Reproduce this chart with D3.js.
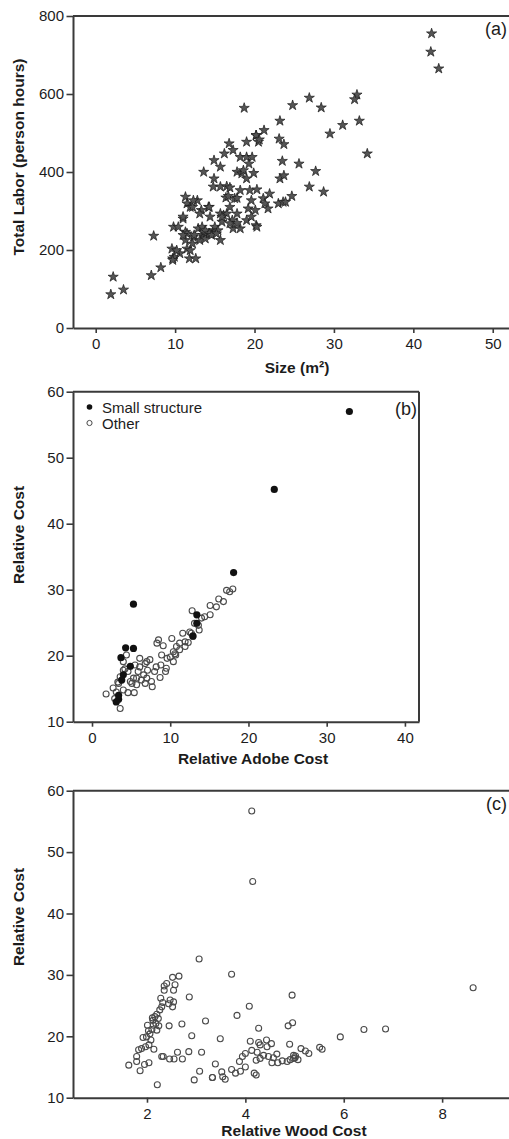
<!DOCTYPE html>
<html>
<head>
<meta charset="utf-8">
<script src="https://cdn.jsdelivr.net/npm/d3@7.9.0/dist/d3.min.js"></script>
<style>
  html, body { margin: 0; padding: 0; background: #fff; }
  svg { display: block; font-family: "Liberation Sans", Arial, sans-serif; }
  .axis path, .axis line { stroke: #3a3a3a; }
  .axis path { stroke-width: 2; }
  .axis line { stroke-width: 1.6; }
  .axis text { font-size: 15px; fill: #1c1c1c; }
  .lab { font-size: 15.5px; font-weight: bold; fill: #1c1c1c; }
</style>
</head>
<body>
<svg id="chart" width="509" height="1139"></svg>
<script>
// (a) size vs total labor
const sizeA = [42.3, 42.2, 43.2, 32.9, 32.6, 26.9, 28.4, 24.8, 18.7, 23.2, 33.2, 31.1, 29.5, 34.2, 21.2, 20.2, 20.5,
  2.2, 1.9, 3.5, 7.0, 8.2, 7.3, 9.7, 9.9, 9.6, 9.8, 10.4, 11.0, 11.0, 11.3, 11.5, 11.9, 12.2, 12.8, 13.3, 14.2,
  11.3, 11.3, 10.6, 11.5, 11.9, 11.8, 12.6, 12.3, 12.9, 13.1, 13.5, 13.9, 13.8, 14.8, 15.0, 15.4, 15.7, 15.9,
  16.1, 16.5, 16.9, 17.2, 17.3, 17.8, 18.2, 17.5, 17.8, 18.2, 19.4, 20.3, 19.2, 19.6, 20.1, 19.0, 19.6, 20.2,
  20.3, 21.1, 21.3, 21.7, 21.9, 23.0, 23.6, 23.9, 24.7, 23.2, 23.7, 23.5, 23.7, 23.1, 25.6, 26.9, 27.7, 28.7,
  14.8, 15.7, 16.5, 16.9, 16.4, 16.7, 14.9, 13.6, 13.6, 14.9, 15.7, 16.2, 16.8, 17.3, 18.2, 19.0, 19.7, 19.0,
  19.3, 17.8, 18.4, 19.0, 19.9, 18.6, 20.2, 20.6, 14.3, 14.4, 15.7, 15.9, 16.9, 17.8, 12.3, 13.4, 13.8, 14.3,
  14.6, 15.2, 12.2, 12.4, 11.5, 11.0, 10.2, 9.7, 13.1];
const laborA = [755, 708, 665, 598, 586, 590, 565, 571, 564, 531, 531, 520, 498, 447, 507, 494, 477,
  131, 86, 98, 135, 155, 236, 178, 182, 203, 259, 259, 280, 285, 336, 319, 310, 310, 327, 302, 310,
  246, 225, 191, 203, 199, 178, 178, 233, 255, 225, 238, 242, 229, 250, 259, 250, 225, 272,
  289, 293, 310, 276, 255, 293, 255, 332, 333, 353, 353, 355, 306, 327, 302, 276, 285, 263,
  259, 332, 319, 306, 344, 319, 323, 323, 338, 383, 391, 428, 471, 485, 421, 362, 402, 349,
  362, 362, 363, 360, 334, 338, 383, 400, 246, 430, 413, 447, 473, 456, 438, 438, 438, 477,
  421, 400, 396, 383, 397, 404, 494, 483, 310, 285, 293, 285, 268, 269, 327, 259, 250, 242,
  238, 242, 216, 238, 242, 238, 199, 174, 293];

// (b) relative adobe cost vs relative cost
const adobeSmall = [32.9, 23.3, 18.1, 5.3, 4.3, 5.3, 3.7, 4.9, 4.0, 3.8, 3.4, 3.1, 13.4, 13.4, 12.9, 3.4];
const costSmall = [57.0, 45.2, 32.6, 27.8, 21.2, 21.1, 19.7, 18.4, 17.1, 16.3, 13.4, 13.0, 26.2, 24.9, 23.0, 14.0];
const adobeOther = [1.8, 2.7, 3.1, 3.6, 3.4, 4.0, 4.6, 5.4, 4.4, 4.0, 4.6, 5.1, 5.7, 5.3, 5.5, 6.1, 6.1, 6.8, 7.0,
  7.4, 6.6, 7.0, 6.8, 7.6, 7.7, 8.3, 8.5, 9.1, 8.9, 8.2, 8.8, 8.7, 9.5, 9.4, 8.0, 10.0, 10.2, 10.4, 10.7, 10.8,
  11.2, 11.6, 11.9, 12.3, 12.5, 12.8, 12.9, 13.7, 14.0, 14.4, 15.1, 15.1, 15.9, 16.2, 16.8, 17.2, 17.6, 18.0,
  4.0, 3.6, 2.9, 4.9, 5.9, 7.1, 6.3, 11.2, 11.9, 10.4, 13.1, 13.6, 12.7, 5.7, 3.3, 4.2, 9.6, 10.6];
const costOther = [14.2, 15.1, 14.5, 12.0, 15.8, 14.8, 14.4, 14.4, 20.1, 17.8, 17.6, 15.8, 15.6, 16.6, 18.6, 19.6, 18.3, 18.8, 19.1,
  19.4, 17.1, 16.6, 15.8, 16.1, 15.3, 21.9, 22.4, 21.5, 20.1, 18.3, 18.6, 16.7, 18.1, 17.6, 17.6, 19.8, 22.6, 20.6, 20.1, 21.4,
  21.9, 23.4, 22.1, 22.0, 23.6, 26.8, 22.9, 23.9, 25.7, 25.9, 26.2, 27.6, 27.4, 28.6, 28.2, 29.9, 29.7, 30.1,
  19.1, 16.8, 13.5, 16.1, 17.6, 17.8, 16.3, 20.9, 21.4, 19.1, 24.9, 24.6, 23.4, 16.6, 16.0, 18.0, 19.6, 20.3];

// (c) relative wood cost vs relative cost
const woodC = [4.13, 4.15, 3.06, 3.72, 8.63, 4.95, 2.86, 4.08, 3.83, 3.19, 2.71, 2.45, 4.96, 4.87, 4.27, 6.41, 6.85,
  5.93, 2.91, 3.49, 4.10, 4.27, 4.43, 4.30, 4.53, 4.44, 4.90, 4.13, 4.24, 4.37, 4.47, 4.30, 4.22, 4.57, 4.64,
  4.54, 4.66, 4.85, 4.91, 4.98, 5.01, 5.07, 5.13, 5.22, 5.29, 5.51, 5.56, 3.11, 2.85, 2.62, 2.72, 2.55, 2.46,
  2.33, 2.30, 3.39, 3.07, 2.96, 3.33, 3.52, 3.54, 3.59, 3.72, 3.80, 3.90, 4.00, 4.18, 4.22, 3.88, 3.94, 2.21,
  1.63, 1.79, 1.79, 1.86, 1.95, 2.04, 1.83, 1.89, 1.97, 2.04, 2.14, 1.92, 1.99, 2.06, 2.03, 2.10, 2.01, 2.13,
  2.12, 2.16, 2.20, 2.23, 2.24, 2.20, 2.26, 2.30, 2.32, 2.28, 2.44, 2.47, 2.54, 2.52, 2.35, 2.35, 2.40, 2.54,
  2.57, 2.52, 2.65, 4.00, 3.33, 4.98, 5.02, 4.75, 2.08, 2.18, 2.11];
const costC = [56.7, 45.2, 32.6, 30.1, 27.9, 26.7, 26.4, 24.9, 23.4, 22.5, 22.0, 21.7, 22.2, 21.7, 21.3, 21.1, 21.2,
  19.9, 20.1, 19.6, 19.2, 19.0, 19.4, 18.6, 18.8, 18.3, 18.7, 17.7, 17.4, 16.9, 16.7, 16.4, 16.1, 16.5, 17.1,
  15.7, 15.7, 15.9, 16.2, 16.9, 16.5, 16.2, 18.0, 17.6, 17.2, 18.2, 17.9, 17.4, 17.5, 17.4, 16.3, 16.3, 16.3,
  16.7, 16.7, 15.5, 14.3, 12.9, 13.3, 14.2, 13.4, 13.0, 14.6, 14.0, 14.3, 15.0, 14.0, 13.7, 15.9, 16.7, 12.1,
  15.3, 15.9, 16.7, 14.4, 15.4, 15.7, 17.8, 18.0, 18.3, 18.6, 17.9, 19.8, 19.9, 20.4, 20.9, 21.1, 21.8, 21.8,
  22.6, 23.2, 23.6, 22.9, 21.7, 21.0, 24.3, 24.8, 25.5, 26.2, 25.3, 25.9, 25.6, 24.8, 27.5, 28.2, 28.6, 27.5,
  28.4, 29.6, 29.8, 17.2, 13.3, 16.4, 16.8, 16.0, 19.4, 22.1, 23.0];

const svg = d3.select('#chart');

function panel(opt) {
  const x = d3.scaleLinear().domain(opt.xDomain).range([73, opt.right]);
  const y = d3.scaleLinear().domain(opt.yDomain).range([opt.bottom, opt.top]);
  const g = svg.append('g');

  // frame (top / right)
  g.append('line').attr('x1', 73).attr('x2', opt.right).attr('y1', opt.top).attr('y2', opt.top)
    .attr('stroke', '#3a3a3a').attr('stroke-width', 2);
  g.append('line').attr('x1', opt.right).attr('x2', opt.right).attr('y1', opt.top).attr('y2', opt.bottom)
    .attr('stroke', '#3a3a3a').attr('stroke-width', 2);

  g.append('g').attr('class', 'axis')
    .attr('transform', `translate(0,${opt.bottom})`)
    .call(d3.axisBottom(x).tickValues(opt.xTicks).tickSize(5).tickPadding(5.5).tickSizeOuter(0));
  g.append('g').attr('class', 'axis')
    .attr('transform', 'translate(73,0)')
    .call(d3.axisLeft(y).tickValues(opt.yTicks).tickSize(6.5).tickPadding(2.5).tickSizeOuter(0));

  g.append('text').attr('class', 'lab')
    .attr('transform', `translate(18,${opt.yLabelY}) rotate(-90)`)
    .attr('text-anchor', 'middle').attr('dominant-baseline', 'central')
    .text(opt.yLabel);
  g.append('text').attr('class', 'lab')
    .attr('x', opt.xLabelX).attr('y', opt.xLabelY)
    .attr('text-anchor', 'middle').attr('dominant-baseline', 'central')
    .text(opt.xLabel);
  g.append('text')
    .attr('x', opt.tagX).attr('y', opt.tagY)
    .attr('text-anchor', 'end').attr('font-size', 18).attr('fill', '#1c1c1c')
    .text(opt.tag);
  return { g, x, y };
}

// (a)
const pa = panel({
  xDomain: [-2.86, 52.3], yDomain: [0, 800], right: 511, top: 16, bottom: 328,
  xTicks: [0, 10, 20, 30, 40, 50], yTicks: [0, 200, 400, 600, 800],
  yLabel: 'Total Labor (person hours)', yLabelY: 157,
  xLabel: 'Size (m²)', xLabelX: 297, xLabelY: 367,
  tag: '(a)', tagX: 507, tagY: 35
});
const star = d3.symbol().type(d3.symbolStar).size(32);
pa.g.append('g').selectAll('path')
  .data(d3.zip(sizeA, laborA))
  .join('path')
  .attr('d', star)
  .attr('transform', d => `translate(${pa.x(d[0])},${pa.y(d[1])})`)
  .attr('fill', '#555').attr('stroke', '#1a1a1a').attr('stroke-width', 0.7);

// (b)
const pb = panel({
  xDomain: [-2.43, 41.8], yDomain: [10, 60], right: 419, top: 391.7, bottom: 721.7,
  xTicks: [0, 10, 20, 30, 40], yTicks: [10, 20, 30, 40, 50, 60],
  yLabel: 'Relative Cost', yLabelY: 535,
  xLabel: 'Relative Adobe Cost', xLabelX: 253, xLabelY: 758,
  tag: '(b)', tagX: 417, tagY: 415
});
pb.g.append('g').selectAll('circle')
  .data(d3.zip(adobeOther, costOther))
  .join('circle')
  .attr('cx', d => pb.x(d[0])).attr('cy', d => pb.y(d[1])).attr('r', 3)
  .attr('fill', 'none').attr('stroke', '#4a4a4a').attr('stroke-width', 1.1);
pb.g.append('g').selectAll('circle')
  .data(d3.zip(adobeSmall, costSmall))
  .join('circle')
  .attr('cx', d => pb.x(d[0])).attr('cy', d => pb.y(d[1])).attr('r', 3.6)
  .attr('fill', '#111');

// legend
const legend = pb.g.append('g');
legend.append('circle').attr('cx', 89.5).attr('cy', 407).attr('r', 2.8).attr('fill', '#111');
legend.append('circle').attr('cx', 89.5).attr('cy', 423).attr('r', 2.6)
  .attr('fill', 'none').attr('stroke', '#4a4a4a').attr('stroke-width', 1);
legend.append('text').attr('x', 102).attr('y', 412.5).attr('font-size', 15).attr('fill', '#1c1c1c').text('Small structure');
legend.append('text').attr('x', 102).attr('y', 428.5).attr('font-size', 15).attr('fill', '#1c1c1c').text('Other');

// (c)
const pc = panel({
  xDomain: [0.496, 9.4], yDomain: [10, 60], right: 511, top: 790.7, bottom: 1097.7,
  xTicks: [2, 4, 6, 8], yTicks: [10, 20, 30, 40, 50, 60],
  yLabel: 'Relative Cost', yLabelY: 917,
  xLabel: 'Relative Wood Cost', xLabelX: 294, xLabelY: 1130,
  tag: '(c)', tagX: 507, tagY: 810
});
pc.g.append('g').selectAll('circle')
  .data(d3.zip(woodC, costC))
  .join('circle')
  .attr('cx', d => pc.x(d[0])).attr('cy', d => pc.y(d[1])).attr('r', 3)
  .attr('fill', 'none').attr('stroke', '#4a4a4a').attr('stroke-width', 1.1);
</script>
</body>
</html>
